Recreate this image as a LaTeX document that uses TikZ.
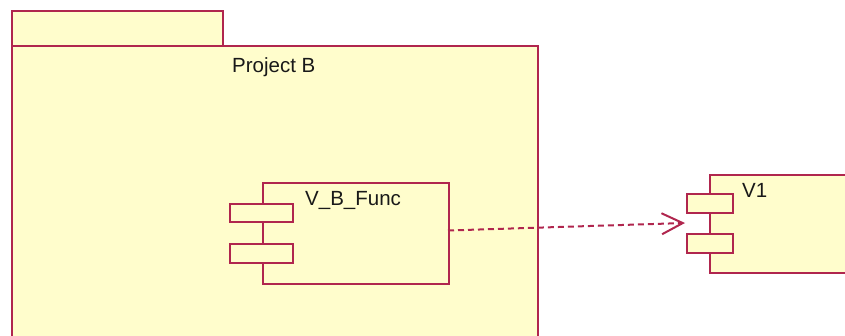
\documentclass[tikz,border=0pt]{standalone}
\usepackage{fontspec}
\setmainfont{Liberation Sans}
\usetikzlibrary{arrows.meta}
\definecolor{umlfill}{RGB}{255,253,204}
\definecolor{umlline}{RGB}{176,38,78}
\definecolor{umltext}{RGB}{25,25,25}
\tikzset{
  umlbox/.style={draw=umlline, fill=umlfill, line width=2pt, rectangle, inner sep=0pt, anchor=north west},
  umllabel/.style={text=umltext, font=\fontsize{20.5}{24}\selectfont, inner sep=0pt, anchor=west},
  depline/.style={draw=umlline, line width=2pt, dash pattern=on 6pt off 4pt, -{Straight Barb[length=21pt,width=21pt,line width=2pt]}}
}
\begin{document}
\begin{tikzpicture}[x=1pt,y=-1pt]
\useasboundingbox (0,0) rectangle (845,336);
\clip (0,0) rectangle (845,336);
% package Project B
\node[umlbox, minimum width=211pt, minimum height=35pt] (tab) at (11,10) {};
\node[umlbox, minimum width=526pt, minimum height=400pt] (pkg) at (11,45) {};
\node[umllabel] (pkglabel) at (232,67) {Project B};
% component V_B_Func
\node[umlbox, minimum width=186pt, minimum height=101pt] (vb) at (262,182) {};
\node[umlbox, minimum width=63pt, minimum height=18pt] (vbr1) at (229,203) {};
\node[umlbox, minimum width=63pt, minimum height=19pt] (vbr2) at (229,243) {};
\node[umllabel] (vblabel) at (305,200) {V\_B\_Func};
% component V1
\node[umlbox, minimum width=200pt, minimum height=98pt] (v1) at (709,174) {};
\node[umlbox, minimum width=46pt, minimum height=19pt] (v1r1) at (686,193) {};
\node[umlbox, minimum width=46pt, minimum height=19pt] (v1r2) at (686,233) {};
\node[umllabel] (v1label) at (742,190) {V1};
% dependency
\coordinate (src) at ([xshift=-2pt,yshift=3pt]vb.east);
\coordinate (dst) at (685,223);
\draw[depline] (src) -- (dst);
\end{tikzpicture}
\end{document}
